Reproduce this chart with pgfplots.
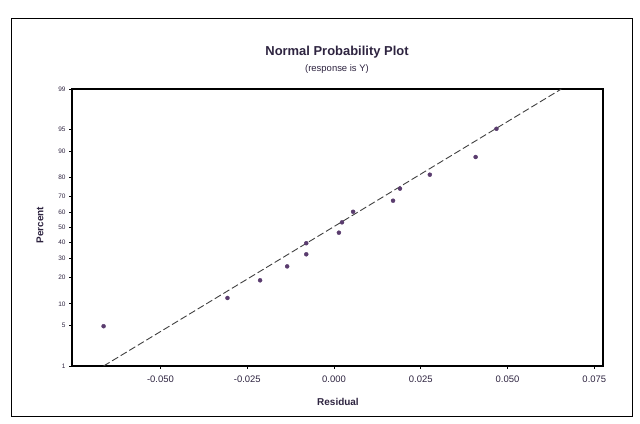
\documentclass[border=0pt]{standalone}
\usepackage{pgfplots}
\pgfplotsset{compat=1.18}
\usepackage{fontspec}
\setmainfont{Liberation Sans}
\definecolor{txt}{HTML}{2E2440}
\definecolor{pt}{HTML}{5A3C6E}
\begin{document}
\begin{tikzpicture}[x=1bp,y=1bp]
\path (0,0) rectangle (640,423);
\draw[line width=1pt] (11,7) rectangle (632,405);
\node[font=\fontsize{13}{15}\selectfont\bfseries, text=txt] at (337,371) {Normal Probability Plot};
\node[font=\fontsize{9.5}{11}\selectfont, text=txt] at (337,354) {(response is Y)};
\node[font=\fontsize{10}{12}\selectfont\bfseries, text=txt, rotate=90] at (40,198) {Percent};
\node[font=\fontsize{10}{12}\selectfont\bfseries, text=txt] at (338,21) {Residual};
\begin{axis}[
  at={(72bp,57bp)}, anchor=south west,
  scale only axis, width=531bp, height=277bp,
  xmin=-0.0755, xmax=0.0775,
  ymin=-2.3263, ymax=2.3263,
  scaled x ticks=false,
  xtick={-0.05,-0.025,0,0.025,0.05,0.075},
  xticklabels={-0.050,-0.025,0.000,0.025,0.050,0.075},
  ytick={-2.3263,-1.6449,-1.2816,-0.8416,-0.5244,-0.2533,0,0.2533,0.5244,0.8416,1.2816,1.6449,2.3263},
  yticklabels={1,5,10,20,30,40,50,60,70,80,90,95,99},
  xtick pos=bottom, ytick pos=left,
  tick align=outside, major tick length=3bp,
  axis line style={line width=1.1pt},
  every tick/.style={black, line width=0.8pt},
  x tick label style={font=\fontsize{9.5}{11}\selectfont, text=txt, yshift=-3bp},
  y tick label style={font=\fontsize{6.5}{8}\selectfont, text=txt},
  clip=true,
]
\addplot[draw=black!75, line width=0.9pt, dash pattern=on 7bp off 3bp] coordinates {(-0.0664,-2.3263) (0.0655,2.3263)};
\addplot[only marks, mark=*, mark size=2bp, color=pt] coordinates {
(-0.0664,-1.658)
(-0.0307,-1.184)
(-0.0213,-0.887)
(-0.0135,-0.653)
(-0.0080,-0.450)
(-0.0080,-0.264)
(0.0014,-0.087)
(0.0023,0.087)
(0.0055,0.264)
(0.0170,0.450)
(0.0190,0.653)
(0.0276,0.887)
(0.0408,1.184)
(0.0468,1.658)
};
\end{axis}
\end{tikzpicture}
\end{document}
